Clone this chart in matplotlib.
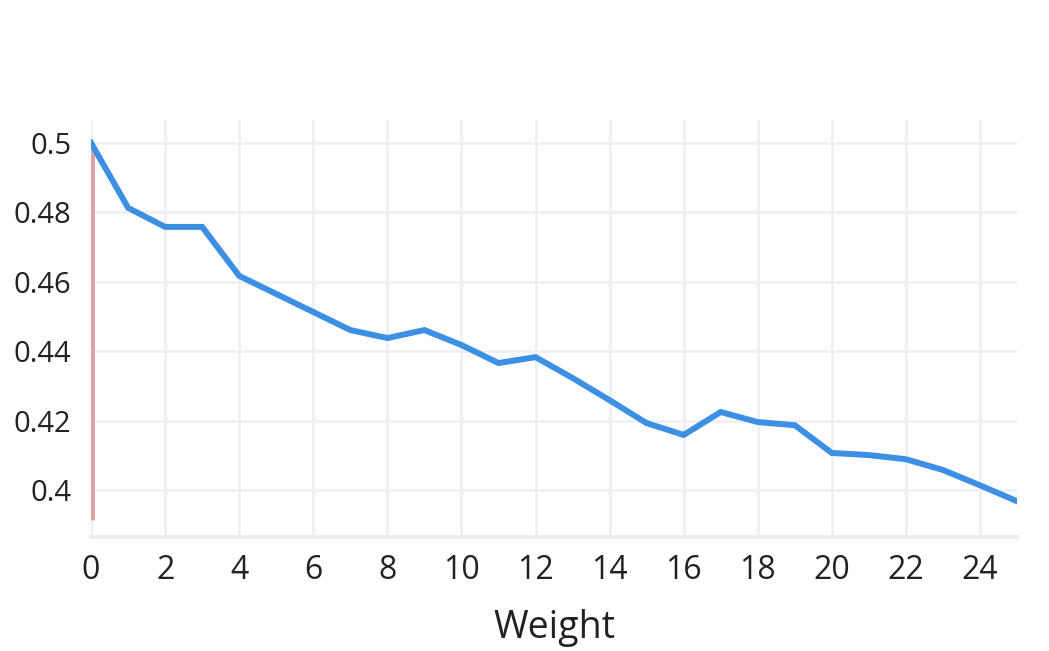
import matplotlib.pyplot as plt

plt.rcParams.update({
    "font.family": ["Open Sans", "DejaVu Sans"],
    "font.size": 20,
})

weight = list(range(26))
value = [0.5, 0.4813, 0.4758, 0.4758, 0.4617, 0.4565, 0.4513, 0.4461, 0.4438,
         0.4461, 0.4418, 0.4366, 0.4383, 0.4323, 0.4259, 0.4193, 0.4159, 0.4225,
         0.4196, 0.4187, 0.4107, 0.4101, 0.4089, 0.4058, 0.4014, 0.3968]
marker_x = [0, 0]
marker_y = [0.3914, 0.5]

GRID = "#eef0f5"

fig = plt.figure(figsize=(10.49, 6.51), dpi=100)
ax = fig.add_axes([0.0868, 0.1751, 0.8827, 0.6406])

ax.plot(marker_x, marker_y, color="#e3a0a3", linewidth=5, solid_capstyle="butt", zorder=2)
ax.plot(weight, value, color="#3d8fe3", linewidth=4.3, solid_joinstyle="miter", zorder=3)

ax.set_xlim(0, 25)
ax.set_ylim(0.3865, 0.5066)
ax.set_xticks(range(0, 25, 2))
ax.set_yticks([0.4, 0.42, 0.44, 0.46, 0.48, 0.5])
ax.set_yticklabels(["0.4", "0.42", "0.44", "0.46", "0.48", "0.5"])

ax.grid(True, color=GRID, linewidth=2)
ax.set_axisbelow(True)
for side in ["top", "right", "left"]:
    ax.spines[side].set_visible(False)
ax.spines["bottom"].set_color("#ebedf1")
ax.spines["bottom"].set_linewidth(3)
ax.tick_params(length=0, colors="#222222")
ax.tick_params(axis="x", labelsize=23, pad=12)
ax.tick_params(axis="y", labelsize=21, pad=14)

ax.set_xlabel("Weight", fontsize=27, color="#222222", labelpad=16)

fig.savefig("out.png", dpi=100, facecolor="white")
